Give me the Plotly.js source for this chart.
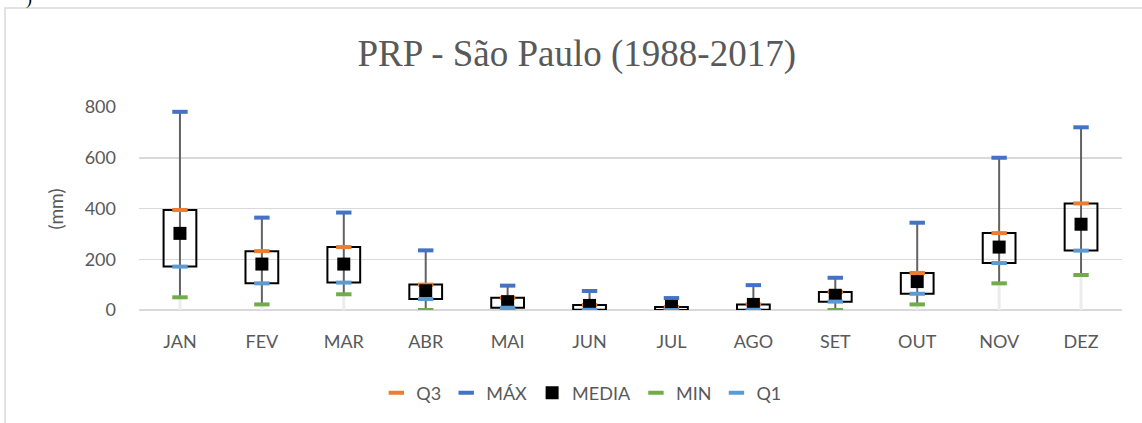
<!DOCTYPE html>
<html>
<head>
<meta charset="utf-8">
<script src="https://cdn.plot.ly/plotly-3.0.1.min.js"></script>
<style>html,body{margin:0;padding:0;background:#fff;}#chart{width:1142px;height:423px;}</style>
</head>
<body>
<div id="chart"></div>
<script>
const months = ["JAN","FEV","MAR","ABR","MAI","JUN","JUL","AGO","SET","OUT","NOV","DEZ"];
const q3    = [394, 232, 248, 100, 48, 20, 12, 22, 71, 146, 303, 420];
const maxV  = [781, 364, 384, 235, 96, 75, 47, 98, 127, 344, 600, 720];
const media = [302, 181, 181, 76, 33, 18, 14, 22, 58, 112, 248, 338];
const minV  = [50, 22, 62, 0, 0, 0, 0, 0, 0, 22, 105, 138];
const q1    = [171, 105, 108, 43, 9, 1, 0, 1, 33, 64, 185, 234];

const FONT = "Lato, 'Open Sans', sans-serif";
const TXT = "#595959";

const boxH = q3.map((v,i)=>v - q1[i]);
const whisk = maxV.map((v,i)=>v - minV[i]);

const traces = [
  {type:"bar", x:months, y:boxH, base:q1, width:0.4, showlegend:false, hoverinfo:"skip",
   marker:{color:"rgba(0,0,0,0)", line:{color:"#000", width:2}}},
  {type:"scatter", mode:"markers", x:months, y:minV, showlegend:false, hoverinfo:"skip",
   marker:{size:1, color:"rgba(0,0,0,0)"},
   error_y:{type:"data", symmetric:false, array:minV.map(()=>0), arrayminus:minV, width:0, thickness:3, color:"#ececec"}},
  {type:"scatter", mode:"markers", x:months, y:minV, showlegend:false, hoverinfo:"skip",
   marker:{size:1, color:"rgba(0,0,0,0)"},
   error_y:{type:"data", symmetric:false, array:whisk, arrayminus:minV.map(()=>0), width:0, thickness:2, color:"#636363"}},
  {type:"scatter", mode:"markers", name:"Q3", x:months, y:q3,
   marker:{symbol:"line-ew", size:11, line:{color:"#ED7D31", width:4}}},
  {type:"scatter", mode:"markers", name:"MÁX", x:months, y:maxV,
   marker:{symbol:"line-ew", size:11, line:{color:"#4472C4", width:4}}},
  {type:"scatter", mode:"markers", name:"MEDIA", x:months, y:media,
   marker:{symbol:"square", size:13, color:"#000", line:{width:0}}},
  {type:"scatter", mode:"markers", name:"MIN", x:months, y:minV,
   marker:{symbol:"line-ew", size:11, line:{color:"#70AD47", width:4}}},
  {type:"scatter", mode:"markers", name:"Q1", x:months, y:q1,
   marker:{symbol:"line-ew", size:11, line:{color:"#5B9BD5", width:4}}}
];

const layout = {
  width:1142, height:423,
  margin:{l:139, r:20, t:107, b:113},
  paper_bgcolor:"#fff", plot_bgcolor:"#fff",
  font:{family:FONT, size:18, color:TXT},
  title:{text:"PRP - São Paulo (1988-2017)", font:{family:"'Liberation Serif', 'Times New Roman', serif", size:37, color:TXT},
         x:0.505, xanchor:"center", y:0.875, yanchor:"middle"},
  showlegend:true,
  legend:{orientation:"h", x:0.45, xanchor:"center", y:-0.409, yanchor:"middle",
          font:{family:FONT, size:18, color:TXT}, itemwidth:30, bgcolor:"rgba(0,0,0,0)"},
  xaxis:{type:"category", range:[-0.5, 11.5], showgrid:false, zeroline:false, showline:false, ticks:"",
         ticklabelstandoff:19, tickfont:{family:FONT, size:18, color:TXT}, fixedrange:true},
  yaxis:{range:[0,800], tickvals:[0,200,400,600,800], showgrid:true, gridcolor:"#d9d9d9", gridwidth:1.5,
         zeroline:true, zerolinecolor:"#d9d9d9", zerolinewidth:1.5, showline:false, ticks:"",
         ticklabelstandoff:22, tickfont:{family:FONT, size:18, color:TXT}, fixedrange:true},
  shapes:[{type:"rect", xref:"paper", yref:"paper", x0:-0.1363, x1:1.1, y0:-0.7, y1:1.4877,
           line:{color:"#d9d9d9", width:1.5}, fillcolor:"rgba(0,0,0,0)", layer:"below"}],
  annotations:[
    {xref:"paper", yref:"paper", x:-0.117, y:1.535, xanchor:"left", yanchor:"middle", showarrow:false,
     text:")", font:{family:"'Liberation Serif', serif", size:18, color:"#000"}},
    {xref:"paper", yref:"paper", x:-0.0845, y:0.5, xanchor:"center", yanchor:"middle", showarrow:false,
     textangle:-90, text:"(mm)", font:{family:FONT, size:19, color:TXT}}
  ],
  barmode:"overlay"
};

Plotly.newPlot("chart", traces, layout, {displayModeBar:false, staticPlot:true});
</script>
</body>
</html>
